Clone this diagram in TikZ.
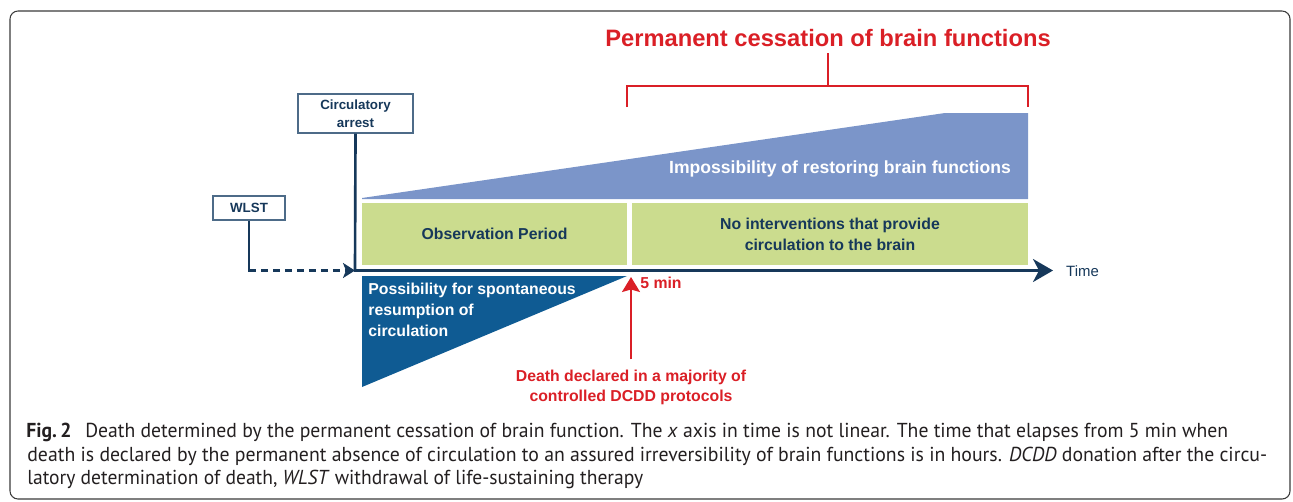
\documentclass[tikz,border=0pt]{standalone}
\usepackage{fontspec}
\usepackage{graphicx}
\setmainfont{Liberation Sans}
\newfontfamily\capfont{PT Sans}
\usetikzlibrary{arrows.meta}

\definecolor{navy}{HTML}{16385A}
\definecolor{obsgreen}{HTML}{CBDC8E}
\definecolor{impblue}{HTML}{7B95C9}
\definecolor{posblue}{HTML}{0F5B93}
\definecolor{deathred}{HTML}{DA1F26}
\definecolor{framegray}{HTML}{3A3A3A}
\definecolor{boxline}{HTML}{4D6B88}
\definecolor{captext}{HTML}{231F20}

\tikzset{
  evtbox/.style={draw=boxline, line width=0.6pt, fill=white, text=navy,
    font=\fontsize{7.6}{10}\selectfont\bfseries, align=center, inner sep=0pt},
  phase/.style={fill=obsgreen, text=navy, font=\fontsize{9}{11.9}\selectfont\bfseries,
    align=center, minimum height=1.24cm, inner sep=0pt},
  axisline/.style={draw=navy, line width=1.5pt},
  redline/.style={draw=deathred, line width=1.1pt},
  redlbl/.style={text=deathred, font=\fontsize{9}{11.3}\selectfont\bfseries, align=center, inner sep=0pt},
  capline/.style={anchor=base west, inner sep=0pt, text=captext, font=\capfont\fontsize{11.5}{13}\selectfont}
}

\begin{document}
\begin{tikzpicture}[x=0.02cm, y=-0.02cm]
  \useasboundingbox (0,0) rectangle (1293,501);
  \draw[framegray, line width=0.6pt, rounded corners=0.16cm] (10,11) rectangle (1290,499);

  % title and bracket
  \node[text=deathred, font=\fontsize{13.5}{16}\selectfont\bfseries] (title) at (828,38) {Permanent cessation of brain functions};
  \coordinate (brmid) at (828,86);
  \draw[redline] (627,107) -- (627,86) -- (1028,86) -- (1028,107);
  \draw[redline] (brmid) -- (title.south);

  % shapes
  \fill[impblue] (362,198) -- (945,113) -- (1028,113) -- (1028,199) -- (362,199) -- cycle;
  \node[text=white, font=\fontsize{10}{12}\selectfont\bfseries] (implbl) at (840,169) {Impossibility of restoring brain functions};
  \fill[posblue] (362,276) -- (627,276) -- (362,387) -- cycle;
  \node[text=white, font=\fontsize{9}{11.9}\selectfont\bfseries, align=left, anchor=north west, inner sep=0pt]
    (poslbl) at (368,283) {Possibility for spontaneous\\resumption of\\circulation};

  \node[phase, minimum width=5.3cm] (obs) at (494.5,234) {Observation Period};
  \node[phase, minimum width=7.92cm] (noint) at (830,234) {No interventions that provide\\circulation to the brain};

  % events and time axis
  \node[evtbox, minimum width=2.3cm, minimum height=0.78cm] (arrest) at (355.5,113.5) {Circulatory\\arrest};
  \node[evtbox, minimum width=1.44cm, minimum height=0.48cm] (wlst) at (249,208) {WLST};
  \coordinate (t0) at (355,270.5);
  \coordinate (tend) at (1053,270.5);
  \coordinate (wcorner) at (wlst.south |- t0);
  \draw[axisline] (arrest.south) -- (t0);
  \draw[axisline, -{Stealth[length=0.4cm, width=0.46cm, inset=0.12cm]}] ([xshift=-0.75pt]t0) -- (tend);
  \node[text=navy, font=\fontsize{8.5}{10}\selectfont, anchor=west] (timelbl) at (1060,271) {Time};
  \draw[navy, line width=1.4pt] (wlst.south) -- ([yshift=-0.7pt]wcorner);
  \draw[navy, line width=1.4pt, dash pattern=on 0.14cm off 0.1cm, -{Stealth[length=0.24cm, width=0.3cm, inset=0.06cm]}] (wcorner) -- (t0);

  % death declared
  \coordinate (fivemin) at (631,277);
  \node[redlbl, anchor=west] (fivelbl) at (640,283) {5 min};
  \node[redlbl] (death) at (631,387) {Death declared in a majority of\\controlled DCDD protocols};
  \draw[redline, shorten <=0.2cm, -{Stealth[length=0.3cm, width=0.36cm, inset=0.05cm]}] (death.north) -- (fivemin);

  % caption
  \node[capline] (cap1) at (26,437) {\resizebox{24.04cm}{\height}{\textbf{Fig.\,2}\hspace{0.7em}Death determined by the permanent cessation of brain function. The \textit{x} axis in time is not linear. The time that elapses from 5 min when}};
  \node[capline] (cap2) at (27,461) {\resizebox{24.8cm}{\height}{death is declared by the permanent absence of circulation to an assured irreversibility of brain functions is in hours. \textit{DCDD} donation after the circu-}};
  \node[capline] (cap3) at (27,484) {\resizebox{12.32cm}{\height}{latory determination of death, \textit{WLST} withdrawal of life-sustaining therapy}};
\end{tikzpicture}
\end{document}
